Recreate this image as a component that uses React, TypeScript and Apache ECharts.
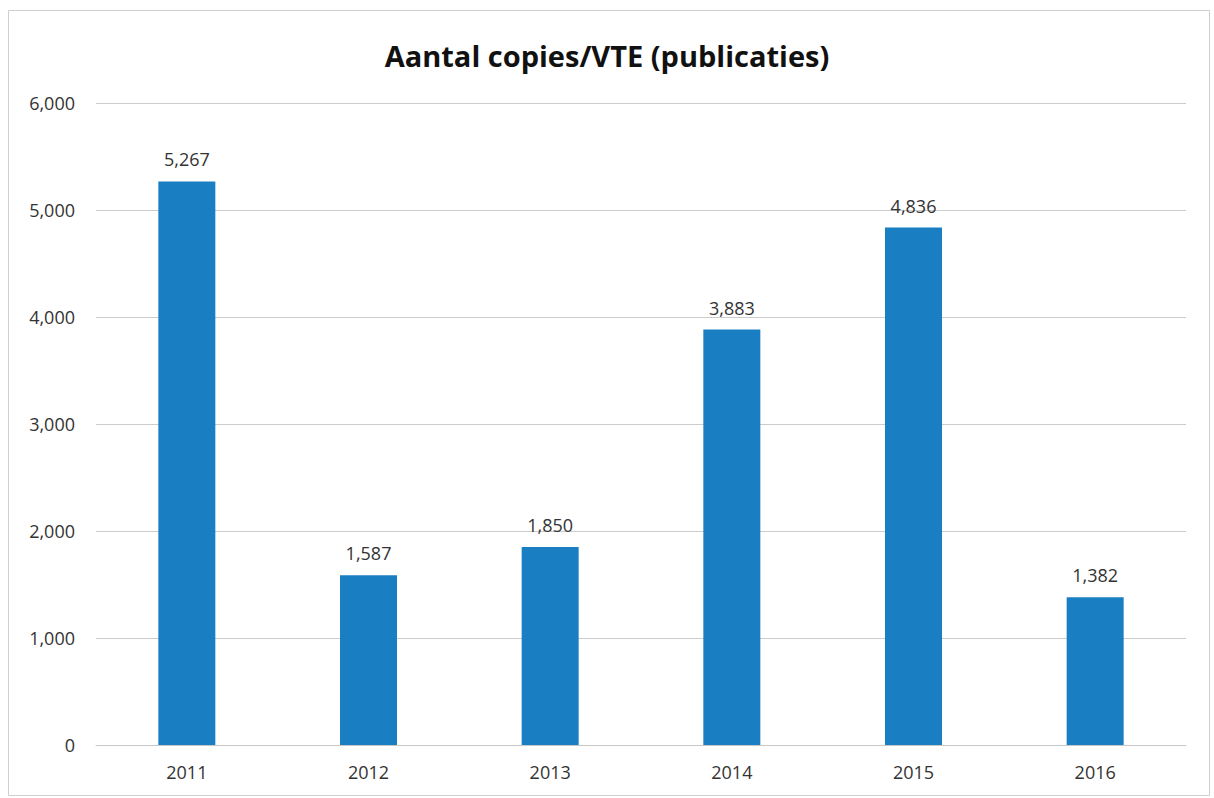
import React, { useEffect, useRef } from "react";
import * as echarts from "echarts";

const categories = ["2011", "2012", "2013", "2014", "2015", "2016"];
const values = [5267, 1587, 1850, 3883, 4836, 1382];
const titleText = "Aantal copies/VTE (publicaties)";

const fmt = (v: number) => v.toLocaleString("en-US");

export default function App() {
  const ref = useRef<HTMLDivElement>(null);
  useEffect(() => {
    if (!ref.current) return;
    const chart = echarts.init(ref.current, null, { renderer: "svg" });
    chart.setOption({
      animation: false,
      backgroundColor: "#ffffff",
      title: {
        text: titleText,
        left: "center",
        top: 36,
        textStyle: { fontFamily: "Open Sans", fontWeight: "bold", fontSize: 29, color: "#111111" },
      },
      graphic: [
        {
          type: "rect",
          shape: { x: 8.5, y: 10.5, width: 1201, height: 785 },
          style: { fill: "none", stroke: "#cfcfcf", lineWidth: 1 },
          silent: true,
        },
      ],
      grid: { left: 96, right: 28, top: 103, bottom: 53 },
      xAxis: {
        type: "category",
        data: categories,
        axisLine: { show: true, lineStyle: { color: "#c8c8c8" } },
        axisTick: { show: false },
        axisLabel: { fontFamily: "Open Sans", fontSize: 18, color: "#333333", margin: 18 },
      },
      yAxis: {
        type: "value",
        min: 0,
        max: 6000,
        interval: 1000,
        axisLine: { show: false },
        axisTick: { show: false },
        splitLine: { lineStyle: { color: "#cccccc" } },
        axisLabel: {
          fontFamily: "Open Sans",
          fontSize: 18,
          color: "#333333",
          margin: 21,
          formatter: (v: number) => fmt(v),
        },
      },
      series: [
        {
          type: "bar",
          data: values,
          barWidth: 57,
          itemStyle: { color: "#1a7fc2" },
          label: {
            show: true,
            position: "top",
            distance: 13,
            fontFamily: "Open Sans",
            fontSize: 18,
            color: "#333333",
            formatter: (p: any) => fmt(p.value),
          },
        },
      ],
    });
    return () => chart.dispose();
  }, []);
  return (
    <div
      ref={ref}
      style={{ position: "fixed", left: 0, top: 0, width: 1214, height: 798 }}
    />
  );
}
